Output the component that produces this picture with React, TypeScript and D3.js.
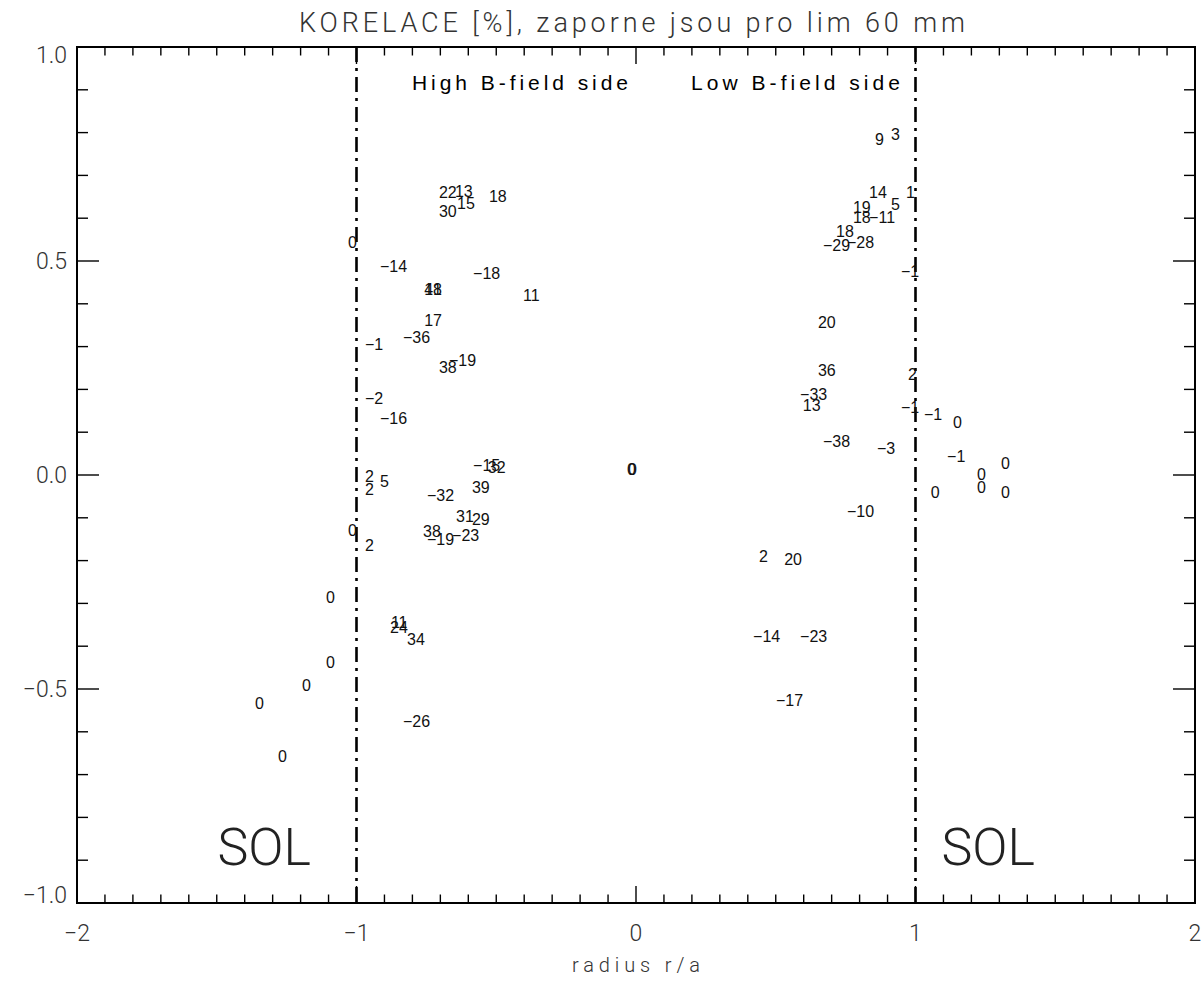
import React from "react";
import * as d3 from "d3";

const W = 1202;
const H = 985;

// Probe positions (normalised radius) and the correlation value drawn at each one.
const radius = [
  -0.705, -0.648, -0.640, -0.705, -0.526, -1.030, -0.916, -0.583, -0.758, -0.758,
  -0.404, -0.758, -0.834, -0.970, -0.705, -0.669, -0.970, -0.916, -0.583, -0.530,
  -0.970, -0.970, -0.916, -0.587, -0.748, -0.644, -0.587, -1.030, -0.762, -0.748,
  -0.658, -0.970, -0.880, -0.877, -0.819, -0.834, -1.109, -1.109, -1.195, -1.363,
  -1.281, -0.032, -0.029,
  0.855, 0.912, 0.834, 0.966, 0.912, 0.776, 0.776, 0.834, 0.716, 0.669,
  0.755, 0.948, 0.651, 0.651, 0.973, 0.587, 0.597, 0.948, 1.030, 1.134,
  0.669, 0.862, 1.113, 1.055, 1.220, 1.220, 1.306, 1.306, 0.755, 0.440,
  0.530, 0.419, 0.587, 0.501,
];
const corr = [
  0.647, 0.650, 0.621, 0.603, 0.638, 0.530, 0.474, 0.458, 0.421, 0.421,
  0.407, 0.348, 0.308, 0.292, 0.238, 0.255, 0.166, 0.119, 0.009, 0.005,
  -0.016, -0.047, -0.028, -0.042, -0.061, -0.110, -0.117, -0.143, -0.145, -0.164,
  -0.154, -0.178, -0.369, -0.357, -0.397, -0.589, -0.299, -0.451, -0.505, -0.547,
  -0.671, 0.0, 0.0,
  0.771, 0.783, 0.647, 0.647, 0.619, 0.612, 0.589, 0.589, 0.556, 0.523,
  0.530, 0.463, 0.343, 0.231, 0.222, 0.175, 0.150, 0.145, 0.129, 0.110,
  0.065, 0.049, 0.030, -0.054, -0.012, -0.042, 0.014, -0.054, -0.098, -0.203,
  -0.210, -0.390, -0.390, -0.540,
];
const labels = [
  "22", "13", "15", "30", "18", "0", "-14", "-18", "41", "18",
  "11", "17", "-36", "-1", "38", "-19", "-2", "-16", "-15", "32",
  "2", "2", "5", "39", "-32", "31", "29", "0", "38", "-19",
  "-23", "2", "24", "11", "34", "-26", "0", "0", "0", "0",
  "0", "0", "0",
  "9", "3", "14", "1", "5", "19", "18", "-11", "18", "-29",
  "-28", "-1", "20", "36", "2", "-33", "13", "-1", "-1", "0",
  "-38", "-3", "-1", "0", "0", "0", "0", "0", "-10", "2",
  "20", "-14", "-23", "-17",
];

const xMajor = [-2, -1, 0, 1, 2];
const yMajor = [-1, -0.5, 0, 0.5, 1];
const separatrix = [-1, 1];
const sideNames = ["High B-field side", "Low B-field side"];
const solCentres = [-1.33, 1.26];

const thinFont = "Roboto, 'DejaVu Sans', sans-serif";
const labelFont = "'Liberation Sans', Arial, sans-serif";

export default function App() {
  const left = 77, right = 1195, top = 47, bottom = 903;
  const x = d3.scaleLinear().domain([-2, 2]).range([left, right]);
  const y = d3.scaleLinear().domain([-1, 1]).range([bottom, top]);

  const xMinor = d3.range(-20, 21).map((i) => i / 10).filter((v) => !xMajor.includes(v));
  const yMinor = d3.range(-10, 11).map((i) => i / 10).filter((v) => !yMajor.includes(v));

  const xMajLen = 17, xMinLen = 8.5, yMajLen = 22, yMinLen = 11;
  const fmtY = (v: number) => d3.format(".1f")(v).replace("-", "\u2212");
  const fmtX = (v: number) => String(v).replace("-", "\u2212");
  // end labels sit just inside the frame
  const yLabelShift = (v: number) => (v === 1 ? 8 : v === -1 ? -8 : 0);

  return (
    <svg
      width={W}
      height={H}
      style={{ position: "absolute", left: 0, top: 0, background: "#fff" }}
    >
      <rect x={0} y={0} width={W} height={H} fill="#fff" />

      {/* title */}
      <text
        x={(left + right) / 2 - 4}
        y={32}
        textAnchor="middle"
        fontFamily={thinFont}
        fontWeight={300}
        fontSize={27}
        fill="#333"
        textLength={666}
        lengthAdjust="spacing"
      >
        KORELACE [%], zaporne jsou pro lim 60 mm
      </text>

      {/* ticks */}
      <g stroke="#000" strokeWidth={1.4}>
        {xMinor.map((v) => (
          <g key={"xm" + v}>
            <line x1={x(v)} x2={x(v)} y1={bottom} y2={bottom - xMinLen} />
            <line x1={x(v)} x2={x(v)} y1={top} y2={top + xMinLen} />
          </g>
        ))}
        {xMajor.map((v) => (
          <g key={"xM" + v}>
            <line x1={x(v)} x2={x(v)} y1={bottom} y2={bottom - xMajLen} />
            <line x1={x(v)} x2={x(v)} y1={top} y2={top + xMajLen} />
          </g>
        ))}
        {yMinor.map((v) => (
          <g key={"ym" + v}>
            <line x1={left} x2={left + yMinLen} y1={y(v)} y2={y(v)} />
            <line x1={right} x2={right - yMinLen} y1={y(v)} y2={y(v)} />
          </g>
        ))}
        {yMajor.map((v) => (
          <g key={"yM" + v}>
            <line x1={left} x2={left + yMajLen} y1={y(v)} y2={y(v)} />
            <line x1={right} x2={right - yMajLen} y1={y(v)} y2={y(v)} />
          </g>
        ))}
      </g>

      {/* frame */}
      <rect
        x={left}
        y={top}
        width={right - left}
        height={bottom - top}
        fill="none"
        stroke="#000"
        strokeWidth={2}
      />

      {/* separatrix lines */}
      {separatrix.map((v) => (
        <line
          key={"sep" + v}
          x1={x(v)}
          x2={x(v)}
          y1={top}
          y2={bottom}
          stroke="#000"
          strokeWidth={2.6}
          strokeDasharray="15,6,3,6"
        />
      ))}

      {/* axis tick labels */}
      {yMajor.map((v) => (
        <text
          key={"yl" + v}
          x={left - 10}
          y={y(v) + 8 + yLabelShift(v)}
          textAnchor="end"
          fontFamily={thinFont}
          fontWeight={300}
          fontSize={23}
          fill="#333"
        >
          {fmtY(v)}
        </text>
      ))}
      {xMajor.map((v) => (
        <text
          key={"xl" + v}
          x={x(v)}
          y={bottom + 38}
          textAnchor="middle"
          fontFamily={thinFont}
          fontWeight={300}
          fontSize={23}
          fill="#333"
        >
          {fmtX(v)}
        </text>
      ))}
      <text
        x={x(0)}
        y={972}
        textAnchor="middle"
        fontFamily={thinFont}
        fontWeight={300}
        fontSize={20}
        fill="#333"
        textLength={128}
        lengthAdjust="spacing"
      >
        radius r/a
      </text>

      {/* side annotations */}
      <text
        x={412}
        y={90}
        fontFamily={labelFont}
        fontSize={21}
        fill="#000"
        textLength={216}
        lengthAdjust="spacing"
      >
        {sideNames[0]}
      </text>
      <text
        x={691}
        y={90}
        fontFamily={labelFont}
        fontSize={21}
        fill="#000"
        textLength={209}
        lengthAdjust="spacing"
      >
        {sideNames[1]}
      </text>
      {solCentres.map((c) => (
        <text
          key={"sol" + c}
          x={x(c)}
          y={865}
          textAnchor="middle"
          fontFamily={thinFont}
          fontWeight={300}
          fontSize={52}
          fill="#222"
        >
          SOL
        </text>
      ))}

      {/* correlation values at probe positions */}
      <g fontFamily={labelFont} fontSize={16} fill="#111">
        {labels.map((t, i) => (
          <text key={"p" + i} x={x(radius[i])} y={y(corr[i])}>
            {t.replace("-", "\u2212")}
          </text>
        ))}
      </g>
    </svg>
  );
}
